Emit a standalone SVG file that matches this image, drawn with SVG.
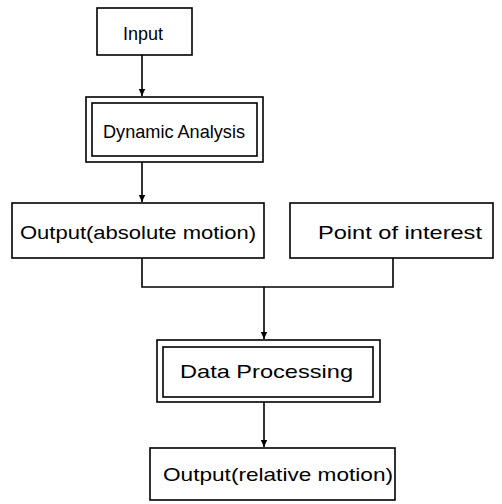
<svg xmlns="http://www.w3.org/2000/svg" width="502" height="504" viewBox="0 0 502 504">
  <style>
    .box { fill: #fff; stroke: #000; stroke-width: 1.6; }
    .wire { fill: none; stroke: #000; stroke-width: 1.6; }
    .label { font-family: "Liberation Sans", Arial, sans-serif; font-size: 19px; fill: #000; }
  </style>
  <defs>
    <marker id="arrow" markerWidth="8" markerHeight="8" refX="7" refY="4" orient="auto" markerUnits="userSpaceOnUse">
      <path d="M0,0.8 L7,4 L0,7.2 Z" fill="#000"/>
    </marker>
  </defs>
  <rect width="502" height="504" fill="#fff"/>

  <!-- connectors -->
  <g id="connectors">
    <line class="wire" x1="142" y1="55" x2="142" y2="96" marker-end="url(#arrow)"/>
    <line class="wire" x1="142" y1="162" x2="142" y2="202" marker-end="url(#arrow)"/>
    <polyline class="wire" points="142,258 142,287 393,287 393,258"/>
    <line class="wire" x1="264" y1="287" x2="264" y2="339" marker-end="url(#arrow)"/>
    <line class="wire" x1="264" y1="402" x2="264" y2="447" marker-end="url(#arrow)"/>
  </g>

  <!-- nodes -->
  <g id="input">
    <rect class="box" x="97" y="8" width="95" height="47"/>
    <text class="label" x="123" y="40" textLength="40" lengthAdjust="spacingAndGlyphs">Input</text>
  </g>

  <g id="dynamic-analysis">
    <rect class="box" x="86" y="97" width="177" height="65"/>
    <rect class="box" x="92" y="103" width="165" height="53"/>
    <text class="label" x="103" y="138" textLength="142" lengthAdjust="spacingAndGlyphs">Dynamic  Analysis</text>
  </g>

  <g id="output-absolute">
    <rect class="box" x="12" y="203" width="252" height="55"/>
    <text class="label" x="20" y="239" textLength="236" lengthAdjust="spacingAndGlyphs">Output(absolute motion)</text>
  </g>

  <g id="point-of-interest">
    <rect class="box" x="290" y="203" width="203" height="55"/>
    <text class="label" x="318" y="239" textLength="164" lengthAdjust="spacingAndGlyphs">Point  of  interest</text>
  </g>

  <g id="data-processing">
    <rect class="box" x="157" y="340" width="223" height="62"/>
    <rect class="box" x="163" y="347" width="210" height="50"/>
    <text class="label" x="180" y="378" textLength="173" lengthAdjust="spacingAndGlyphs">Data  Processing</text>
  </g>

  <g id="output-relative">
    <rect class="box" x="150" y="448" width="245" height="52"/>
    <text class="label" x="163" y="481" textLength="230" lengthAdjust="spacingAndGlyphs">Output(relative motion)</text>
  </g>
</svg>
